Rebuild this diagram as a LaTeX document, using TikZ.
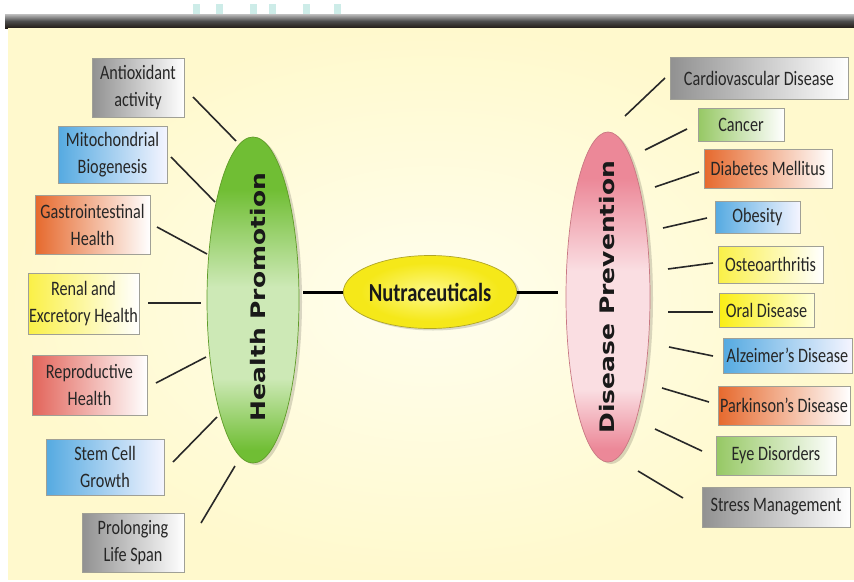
\documentclass[tikz,border=0pt]{standalone}
\usepackage{fontspec}
\usetikzlibrary{shapes.geometric,shadows}
\newfontfamily\boxfont[FakeStretch=0.79]{Carlito}
\newfontfamily\headfont[FakeStretch=1.25]{DejaVu Sans}
\definecolor{txt}{RGB}{38,38,38}
\definecolor{bord}{RGB}{160,160,150}
\definecolor{cgray}{RGB}{145,145,145}
\definecolor{cblue}{RGB}{85,170,225}
\definecolor{corange}{RGB}{230,105,45}
\definecolor{cred}{RGB}{226,100,90}
\definecolor{cyellow}{RGB}{250,240,70}
\definecolor{cyellow2}{RGB}{250,238,20}
\definecolor{cgreen}{RGB}{150,200,100}
\definecolor{bgout}{RGB}{255,249,205}
\definecolor{bgin}{RGB}{255,254,238}
\definecolor{teal}{RGB}{205,236,232}
\definecolor{conn}{RGB}{40,40,40}
\definecolor{gin}{RGB}{205,233,182}
\definecolor{gout}{RGB}{112,190,52}
\definecolor{pin}{RGB}{250,222,226}
\definecolor{pout}{RGB}{236,136,152}
\definecolor{yin}{RGB}{252,246,120}
\definecolor{yout}{RGB}{245,232,25}
\pgfdeclareverticalshading{greenax}{100bp}{color(0bp)=(gout); color(27bp)=(gout); color(38bp)=(gin); color(52bp)=(gin); color(67bp)=(gout); color(100bp)=(gout)}
\pgfdeclareverticalshading{pinkax}{100bp}{color(0bp)=(pout); color(27bp)=(pout); color(36bp)=(pin); color(54bp)=(pin); color(68bp)=(pout); color(100bp)=(pout)}
\pgfdeclareradialshading{yelrad}{\pgfpoint{0bp}{0bp}}{color(0bp)=(yin); color(3bp)=(yin); color(20bp)=(yout); color(50bp)=(yout)}
\tikzset{
  box/.style={draw=bord, line width=0.8pt, rectangle, inner sep=0pt, align=center,
    text=txt, font=\boxfont\fontsize{20.5}{27}\selectfont, right color=white},
  gbox/.style={box, left color=cgray},
  bbox/.style={box, left color=cblue, right color=blue!4!white},
  obox/.style={box, left color=corange},
  rbox/.style={box, left color=cred},
  ybox/.style={box, left color=cyellow},
  y2box/.style={box, left color=cyellow2, right color=yellow!15!white},
  grbox/.style={box, left color=cgreen},
  conline/.style={draw=conn, line width=1.6pt},
  mainline/.style={draw=black, line width=3pt},
  headtext/.style={rotate=90, font=\headfont\bfseries\fontsize{20}{24}\selectfont, text=black!90},
  oval/.style={ellipse, inner sep=0pt, line width=0.7pt,
    drop shadow={shadow xshift=3pt, shadow yshift=-2pt, opacity=0.15, fill=black}}
}
\begin{document}
\begin{tikzpicture}[x=1pt,y=-1pt]
\useasboundingbox (0,0) rectangle (854,581);
\fill[white] (0,0) rectangle (854,581);
% teal squares at top
\foreach \xx in {193,216,250,269,303,334}
  \fill[teal] (\xx,4) rectangle ++(7,10);
% dark bar
\shade[top color=black!25, bottom color={rgb,255:red,35;green,28;blue,22}, middle color=black!70] (5,14) rectangle (854,28);
% background
\shade[inner color=bgin, outer color=bgout] (8,28) rectangle (854,579);

% central ovals
\node[oval, minimum width=92pt, minimum height=326pt, draw={rgb,255:red,95;green,155;blue,40},
  shading=greenax] (hp) at (253,300) {};
\node[headtext] (hpt) at (258,297) {Health Promotion};
\node[oval, minimum width=84pt, minimum height=330pt, draw={rgb,255:red,200;green,120;blue,130},
  shading=pinkax] (dp) at (608,297) {};
\node[headtext] (dpt) at (607,297) {Disease Prevention};
\node[oval, minimum width=136pt, minimum height=73pt, draw={rgb,255:red,175;green,165;blue,40},
  shading=yelrad,
  font=\boxfont\bfseries\fontsize{26}{30}\selectfont, text=black!90] (nut) at (430,292) {Nutraceuticals};

\draw[mainline, shorten >=4pt] (nut.west) -- (nut.west -| hp.east);
\draw[mainline, shorten >=8pt] (nut.east) -- (nut.east -| dp.west);

% left boxes
\node[gbox, minimum width=92pt, minimum height=59pt] (b1) at (138,87.5) {Antioxidant\\activity};
\node[bbox, minimum width=109pt, minimum height=57pt] (b2) at (112.5,154.5) {Mitochondrial\\Biogenesis};
\node[obox, minimum width=115pt, minimum height=59pt] (b3) at (92.5,224.5) {Gastrointestinal\\Health};
\node[ybox, minimum width=111pt, minimum height=61pt] (b4) at (83.5,303.5) {Renal and\\Excretory Health};
\node[rbox, minimum width=115pt, minimum height=60pt] (b5) at (89.5,385) {Reproductive\\Health};
\node[bbox, minimum width=118pt, minimum height=56pt] (b6) at (105,467) {Stem Cell\\Growth};
\node[gbox, minimum width=102pt, minimum height=59pt] (b7) at (133,542.5) {Prolonging\\Life Span};

% right boxes
\node[gbox, minimum width=178pt, minimum height=42pt] (r1) at (759,78) {Cardiovascular Disease};
\node[grbox, minimum width=86pt, minimum height=33pt] (r2) at (741,124.5) {Cancer};
\node[obox, minimum width=128pt, minimum height=39pt] (r3) at (768,168.5) {Diabetes Mellitus};
\node[bbox, minimum width=85pt, minimum height=32pt] (r4) at (757.5,217) {Obesity};
\node[ybox, minimum width=105pt, minimum height=37pt] (r5) at (770.5,264.5) {Osteoarthritis};
\node[y2box, minimum width=95pt, minimum height=34pt] (r6) at (766.5,310) {Oral Disease};
\node[bbox, minimum width=129pt, minimum height=35pt] (r7) at (787.5,355.5) {Alzeimer’s Disease};
\node[obox, minimum width=132pt, minimum height=39pt] (r8) at (784,405.5) {Parkinson’s Disease};
\node[grbox, minimum width=120pt, minimum height=39pt] (r9) at (776,455.5) {Eye Disorders};
\node[gbox, minimum width=148pt, minimum height=40pt] (r10) at (776,507) {Stress Management};

% connector end points
\coordinate (l1a) at (193,97);  \coordinate (l1b) at (236,141);
\coordinate (l2a) at (171,157); \coordinate (l2b) at (215,202);
\coordinate (l3a) at (157,227); \coordinate (l3b) at (207,254);
\coordinate (l4a) at (148,303); \coordinate (l4b) at (201,303);
\coordinate (l5a) at (156,383); \coordinate (l5b) at (206,357);
\coordinate (l6a) at (173,462); \coordinate (l6b) at (217,417);
\coordinate (l7a) at (201,523); \coordinate (l7b) at (235,466);
\coordinate (r1a) at (625,116); \coordinate (r1b) at (665,78);
\coordinate (r2a) at (645,150); \coordinate (r2b) at (687,129);
\coordinate (r3a) at (655,187); \coordinate (r3b) at (699,172);
\coordinate (r4a) at (663,228); \coordinate (r4b) at (707,218);
\coordinate (r5a) at (668,269); \coordinate (r5b) at (713,263);
\coordinate (r6a) at (668,312); \coordinate (r6b) at (713,312);
\coordinate (r7a) at (669,347); \coordinate (r7b) at (713,356);
\coordinate (r8a) at (662,388); \coordinate (r8b) at (709,402);
\coordinate (r9a) at (655,429); \coordinate (r9b) at (702,451);
\coordinate (r10a) at (638,471); \coordinate (r10b) at (683,498);
\foreach \c in {l1,l2,l3,l4,l5,l6,l7,r1,r2,r3,r4,r5,r6,r7,r8,r9,r10}
  \draw[conline] (\c a) -- (\c b);
\end{tikzpicture}
\end{document}
